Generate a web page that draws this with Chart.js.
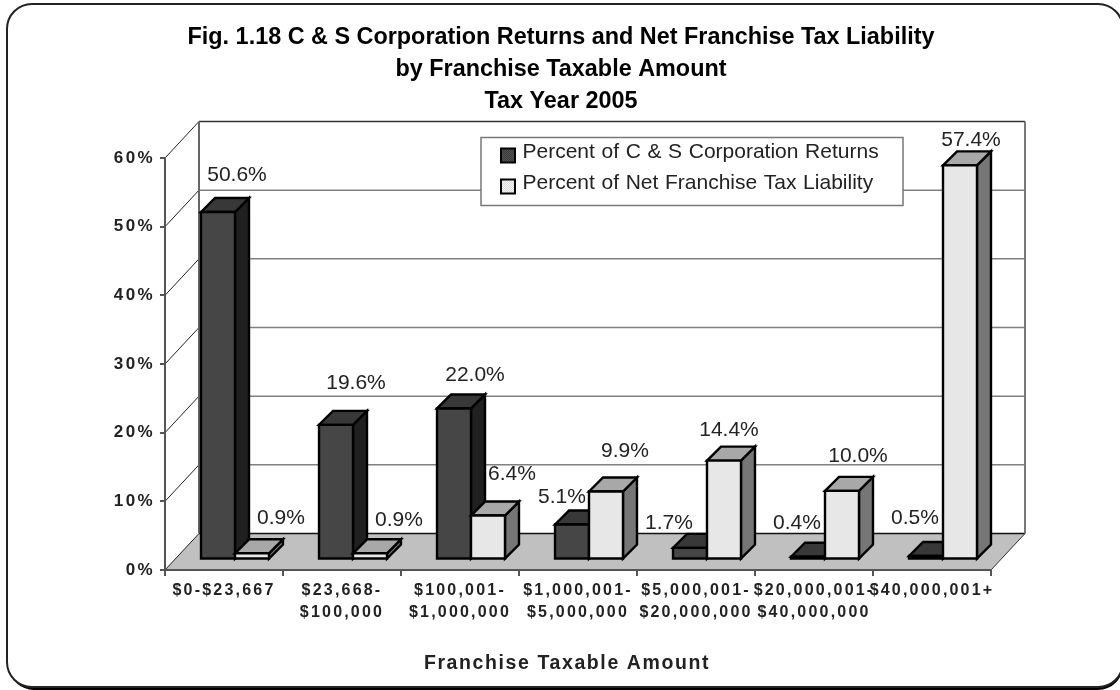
<!DOCTYPE html>
<html><head><meta charset="utf-8">
<style>html,body{margin:0;padding:0;background:#fff}canvas{display:block}</style>
<script src="https://cdn.jsdelivr.net/npm/chart.js@4/dist/chart.umd.js"></script>
</head><body><canvas id="c" width="1120" height="690"></canvas>
<script>
const categories = [["$0-$23,667"],["$23,668-","$100,000"],["$100,001-","$1,000,000"],["$1,000,001-","$5,000,000"],["$5,000,001-","$20,000,000"],["$20,000,001-","$40,000,000"],["$40,000,001+"]];
const seriesNames = ["Percent of C & S Corporation Returns","Percent of Net Franchise Tax Liability"];
const returnsPct = [50.6,19.6,22.0,5.1,1.7,0.4,0.5];
const liabilityPct = [0.9,0.9,6.4,9.9,14.4,10.0,57.4];
const titleLines = ["Fig. 1.18 C & S Corporation Returns and Net Franchise Tax Liability","by Franchise Taxable Amount","Tax Year 2005"];
const xTitle = "Franchise Taxable Amount";
const returnsLabelNudge = [[19,-37],[20,-42],[21,-33],[-10,-27],[-21,-25],[-11,-34],[-11,-38]];
const liabilityLabelNudge = [[29,-35],[29,-33],[24,-41],[19,-40],[5,-30],[16,-35],[11,-25]];

const FONT = '"Liberation Sans", Arial, sans-serif';
const WALL = {dx:34, dy:-36.5}, BAR = {dx:11, dy:-10.5, depth:14};

function checker(a,b){
  const c=document.createElement('canvas');c.width=c.height=2;
  const x=c.getContext('2d');x.fillStyle=a;x.fillRect(0,0,2,2);x.fillStyle=b;x.fillRect(0,0,1,1);x.fillRect(1,1,1,1);
  return x.createPattern(c,'repeat');
}
const fills = [
 {front:checker('#525252','#3a3a3a'),top:checker('#404040','#303030'),side:checker('#2a2a2a','#161616')},
 {front:checker('#f6f6f6','#d8d8d8'),top:checker('#b4b4b4','#9c9c9c'),side:checker('#868686','#666666')}
];

function poly(ctx,pts,fill,stroke,lw){
  ctx.beginPath();pts.forEach((p,i)=>i?ctx.lineTo(p[0],p[1]):ctx.moveTo(p[0],p[1]));ctx.closePath();
  if(fill){ctx.fillStyle=fill;ctx.fill();}
  if(stroke){ctx.strokeStyle=stroke;ctx.lineWidth=lw;ctx.lineJoin='miter';ctx.stroke();}
}
function line(ctx,x1,y1,x2,y2,c,w){ctx.beginPath();ctx.moveTo(x1,y1);ctx.lineTo(x2,y2);ctx.strokeStyle=c;ctx.lineWidth=w;ctx.stroke();}

const scene = {
 id:'scene',
 beforeDraw(chart){
  const {ctx,scales:{x,y}}=chart;
  if(!x._spaced){
    x._spaced=true;
    const dl=x.drawLabels, dt=x.drawTitle, yl=y.drawLabels;
    x.drawLabels=function(a){ctx.save();ctx.letterSpacing='2.2px';dl.call(this,a);ctx.restore();};
    x.drawTitle=function(a){ctx.save();ctx.translate(-11,0);ctx.letterSpacing='1.6px';dt.call(this,a);ctx.restore();};
    y._computeLabelArea=function(){return undefined;};
    y.drawLabels=function(a){ctx.save();ctx.letterSpacing='2.4px';yl.call(this,a);ctx.restore();};
  }
  ctx.save();
  ctx.beginPath();ctx.roundRect(9,6,1114,684,25);ctx.fillStyle='#000';ctx.fill();
  ctx.beginPath();ctx.roundRect(7,4,1116,683,25);ctx.fillStyle='#fff';ctx.fill();
  ctx.strokeStyle='#222';ctx.lineWidth=2;ctx.stroke();
  const L=x.left,R=x.right,B=y.getPixelForValue(0),T=y.getPixelForValue(60);
  poly(ctx,[[L,B],[R,B],[R+WALL.dx,B+WALL.dy],[L+WALL.dx,B+WALL.dy]],'#c0c0c0');
  y.ticks.forEach(t=>{
    const py=y.getPixelForValue(t.value);
    line(ctx,L,py,L+WALL.dx,py+WALL.dy,'#222',1);
    if(t.value>0&&t.value<60) line(ctx,L+WALL.dx,py+WALL.dy,R+WALL.dx,py+WALL.dy,'#808080',1.5);
  });
  line(ctx,L+WALL.dx,B+WALL.dy,R+WALL.dx,B+WALL.dy,'#111',1.5);
  line(ctx,L+WALL.dx,T+WALL.dy,R+WALL.dx,T+WALL.dy,'#333',1.5);
  line(ctx,L+WALL.dx,T+WALL.dy,L+WALL.dx,B+WALL.dy,'#666',2);
  line(ctx,R+WALL.dx,T+WALL.dy,R+WALL.dx,B+WALL.dy,'#777',2);
  line(ctx,R,B,R+WALL.dx,B+WALL.dy,'#333',1);
  ctx.restore();
 },
 beforeDatasetsDraw(chart){
  const {ctx}=chart, metas=[chart.getDatasetMeta(0),chart.getDatasetMeta(1)], d=BAR.depth;
  ctx.save();ctx.translate(BAR.dx,BAR.dy);
  categories.forEach((_,i)=>{
    metas.forEach((m,k)=>{
      const b=m.data[i],l=b.x-b.width/2,r=b.x+b.width/2,t=b.y,bs=b.base,f=fills[k];
      poly(ctx,[[r,t],[r+d,t-d],[r+d,bs-d],[r,bs]],f.side,'#000',2.4);
      poly(ctx,[[l,t],[l+d,t-d],[r+d,t-d],[r,t]],f.top,'#000',2.4);
      b.draw(ctx);
      poly(ctx,[[l,t],[r,t],[r,bs],[l,bs]],null,'#000',2.4);
    });
  });
  ctx.restore();
  return false;
 },
 afterDraw(chart){
  const {ctx}=chart;
  ctx.save();
  ctx.font='21px '+FONT;ctx.fillStyle='#222';ctx.textAlign='center';ctx.textBaseline='middle';
  [returnsLabelNudge,liabilityLabelNudge].forEach((nudge,k)=>{
    const m=chart.getDatasetMeta(k), vals=chart.data.datasets[k].data;
    m.data.forEach((b,i)=>ctx.fillText(vals[i].toFixed(1)+'%',b.x+BAR.dx+nudge[i][0],b.y+BAR.dy+nudge[i][1]));
  });
  ctx.fillStyle='#fff';ctx.fillRect(481,137.5,422,68);
  ctx.strokeStyle='#777';ctx.lineWidth=1.5;ctx.strokeRect(481,137.5,422,68);
  ctx.font='21px '+FONT;ctx.textAlign='left';ctx.wordSpacing='0.8px';
  chart.data.datasets.forEach((ds,k)=>{
    const yy=152+k*31;
    ctx.fillStyle=fills[k].front;ctx.fillRect(501,yy-3.5,14,14);
    ctx.strokeStyle='#000';ctx.lineWidth=2;ctx.strokeRect(501,yy-3.5,14,14);
    ctx.fillStyle='#222';ctx.fillText(ds.label,522.5,yy);
  });
  ctx.restore();
 }
};

new Chart(document.getElementById('c'),{
 type:'bar',
 data:{labels:categories,datasets:[
  {label:seriesNames[0],data:returnsPct,backgroundColor:fills[0].front,borderWidth:0,categoryPercentage:0.576,barPercentage:1},
  {label:seriesNames[1],data:liabilityPct,backgroundColor:fills[1].front,borderWidth:0,categoryPercentage:0.576,barPercentage:1}
 ]},
 options:{
  responsive:false,animation:false,devicePixelRatio:1,
  layout:{padding:{left:131,right:129,top:0,bottom:15}},
  plugins:{
   legend:{display:false},tooltip:{enabled:false},
   title:{display:true,text:titleLines,color:'#000',font:{family:FONT,size:23.4,weight:'bold',lineHeight:32/23.4},padding:{top:22,bottom:40}}
  },
  scales:{
   x:{
    afterFit(s){s.height=105;},
    grid:{drawOnChartArea:false,drawTicks:true,tickLength:6,color:'#555',lineWidth:2},
    border:{color:'#555',width:2},
    ticks:{autoSkip:false,maxRotation:0,minRotation:0,padding:4,color:'#222',font:{family:FONT,size:16,weight:'bold',lineHeight:22/16}},
    title:{display:true,text:xTitle,color:'#222',font:{family:FONT,size:19.5,weight:'bold'},padding:{top:0,bottom:0}}
   },
   y:{
    min:0,max:60,
    afterFit(s){s.width=34;},
    grid:{drawOnChartArea:false,drawTicks:true,tickLength:5,color:'#555',lineWidth:2},
    border:{color:'#555',width:2},
    ticks:{stepSize:10,padding:5,color:'#222',callback:v=>v+'%',font:{family:FONT,size:17,weight:'bold'}}
   }
  }
 },
 plugins:[scene]
});
</script></body></html>
